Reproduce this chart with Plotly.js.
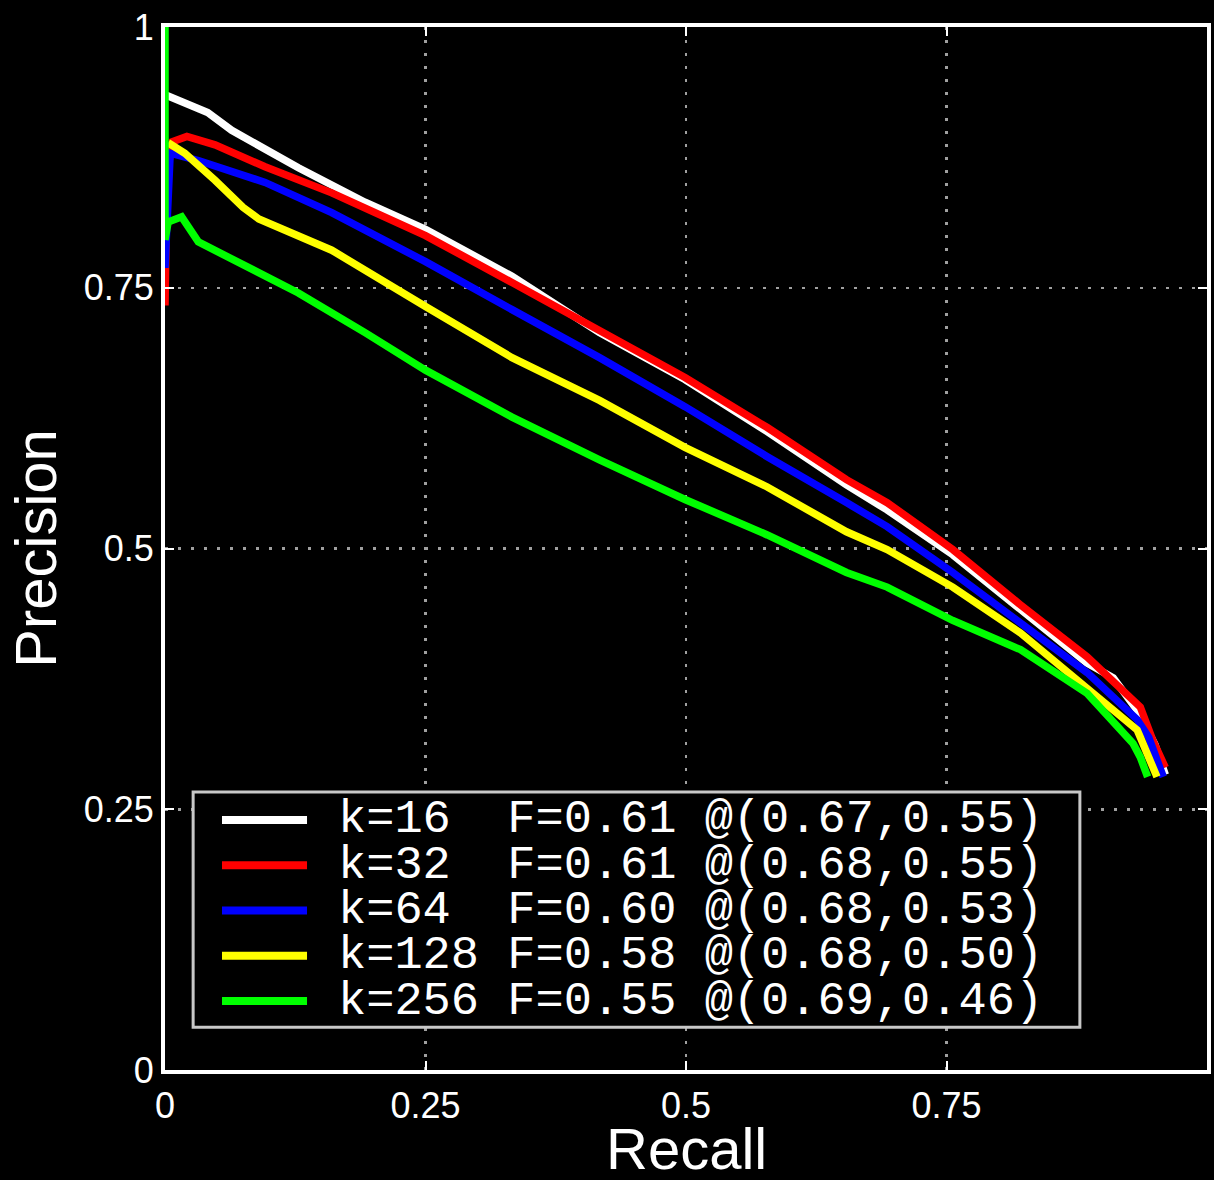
<!DOCTYPE html>
<html>
<head>
<meta charset="utf-8">
<script src="https://cdn.plot.ly/plotly-3.0.1.min.js"></script>
<style>
  html, body { margin: 0; padding: 0; background: #000; }
  #chart { width: 1214px; height: 1180px; }
</style>
</head>
<body>
<div id="chart"></div>
<script>
// ---- Data ----
const kValues = [16, 32, 64, 128, 256];
const seriesColors = ['#ffffff', '#ff0000', '#0000ff', '#ffff00', '#00ff00'];
const fScores = ['0.61', '0.61', '0.60', '0.58', '0.55'];
const bestRecall = ['0.67', '0.68', '0.68', '0.68', '0.69'];
const bestPrecision = ['0.55', '0.55', '0.53', '0.50', '0.46'];

const recallK16 = [0.000, 0.007, 0.041, 0.064, 0.128, 0.192, 0.250, 0.333, 0.417, 0.499, 0.578, 0.654, 0.693, 0.756, 0.821, 0.885, 0.910, 0.933, 0.950, 0.960];
const precK16   = [0.935, 0.932, 0.918, 0.901, 0.865, 0.832, 0.806, 0.761, 0.707, 0.662, 0.612, 0.561, 0.537, 0.494, 0.441, 0.390, 0.376, 0.345, 0.312, 0.283];

const recallK32 = [0.000, 0.002, 0.007, 0.021, 0.048, 0.096, 0.160, 0.250, 0.333, 0.417, 0.499, 0.578, 0.654, 0.693, 0.756, 0.821, 0.885, 0.936, 0.948, 0.960];
const precK32   = [0.733, 0.860, 0.890, 0.895, 0.887, 0.866, 0.841, 0.800, 0.755, 0.709, 0.664, 0.616, 0.566, 0.544, 0.499, 0.446, 0.396, 0.348, 0.316, 0.290];

const recallK64 = [0.000, 0.005, 0.032, 0.096, 0.160, 0.250, 0.333, 0.417, 0.499, 0.578, 0.654, 0.693, 0.756, 0.821, 0.885, 0.933, 0.944, 0.958];
const precK64   = [0.769, 0.879, 0.872, 0.851, 0.822, 0.775, 0.729, 0.683, 0.636, 0.588, 0.544, 0.521, 0.477, 0.429, 0.381, 0.336, 0.319, 0.281];

const recallK128 = [0.003, 0.019, 0.048, 0.075, 0.090, 0.112, 0.160, 0.250, 0.333, 0.417, 0.499, 0.578, 0.654, 0.693, 0.756, 0.821, 0.885, 0.933, 0.936, 0.952];
const precK128   = [0.889, 0.879, 0.853, 0.827, 0.816, 0.807, 0.786, 0.732, 0.683, 0.642, 0.597, 0.559, 0.516, 0.499, 0.463, 0.419, 0.367, 0.326, 0.319, 0.281];

const recallK256 = [0.000, 0.000, 0.003, 0.016, 0.032, 0.064, 0.128, 0.192, 0.250, 0.333, 0.417, 0.499, 0.578, 0.654, 0.693, 0.756, 0.821, 0.885, 0.929, 0.936, 0.943];
const precK256   = [1.000, 0.796, 0.813, 0.818, 0.794, 0.777, 0.745, 0.707, 0.671, 0.626, 0.585, 0.547, 0.513, 0.477, 0.463, 0.431, 0.403, 0.361, 0.313, 0.300, 0.281];

const tickVals = [0, 0.25, 0.5, 0.75, 1];
const tickText = ['0', '0.25', '0.5', '0.75', '1'];
const xTitle = 'Recall';
const yTitle = 'Precision';

// ---- Build ----
const recalls = [recallK16, recallK32, recallK64, recallK128, recallK256];
const precs = [precK16, precK32, precK64, precK128, precK256];

function pad(s, n) { while (s.length < n) s += ' '; return s; }
function legendLabel(i) {
  const s = pad('k=' + kValues[i], 6) + 'F=' + fScores[i] + ' @(' + bestRecall[i] + ',' + bestPrecision[i] + ')';
  return s.replace(/ /g, '\u00a0');
}

const traces = kValues.map((k, i) => ({
  type: 'scatter',
  mode: 'lines',
  x: recalls[i],
  y: precs[i],
  name: legendLabel(i),
  line: { color: seriesColors[i], width: 7.5 },
  showlegend: false,
  hoverinfo: 'x+y+name'
}));

// legend geometry (paper coordinates)
const legBox = { x0: 0.027, x1: 0.878, y0: 0.041, y1: 0.2665 };
const rowTop = 0.2397, rowStep = 0.0434;
const sampleX0 = 0.0547, sampleX1 = 0.1363, textX = 0.164;

const shapes = [{
  type: 'rect', xref: 'paper', yref: 'paper',
  x0: legBox.x0, x1: legBox.x1, y0: legBox.y0, y1: legBox.y1,
  line: { color: '#c8c8c8', width: 3 }, fillcolor: '#000000', layer: 'above'
}];
const annotations = [];
kValues.forEach((k, i) => {
  const yy = rowTop - i * rowStep;
  shapes.push({
    type: 'line', xref: 'paper', yref: 'paper',
    x0: sampleX0, x1: sampleX1, y0: yy, y1: yy,
    line: { color: seriesColors[i], width: 8 }, layer: 'above'
  });
  annotations.push({
    xref: 'paper', yref: 'paper', x: textX, y: yy,
    xanchor: 'left', yanchor: 'middle', showarrow: false,
    text: legendLabel(i),
    font: { family: 'Liberation Mono, DejaVu Sans Mono, monospace', size: 47, color: '#ffffff' }
  });
});

// x-axis title placed just under the tick labels, kept inside the bottom edge
annotations.push({
  xref: 'paper', yref: 'paper', x: 0.5, y: -0.0752,
  xanchor: 'center', yanchor: 'middle', showarrow: false,
  text: xTitle,
  font: { family: 'Liberation Sans, Arial, sans-serif', size: 58, color: '#ffffff' }
});

const axisCommon = {
  range: [0, 1],
  tickmode: 'array',
  tickvals: tickVals,
  ticktext: tickText,
  showline: true,
  linecolor: '#ffffff',
  linewidth: 4,
  mirror: 'ticks',
  ticks: 'inside',
  ticklen: 9,
  tickwidth: 2,
  tickcolor: '#ffffff',
  showgrid: true,
  gridcolor: '#a0a0a0',
  gridwidth: 2.5,
  griddash: '3px,10px',
  zeroline: false,
  fixedrange: true,
  tickfont: { family: 'Liberation Sans, Arial, sans-serif', size: 36, color: '#ffffff' }
};

const layout = {
  width: 1214,
  height: 1180,
  paper_bgcolor: '#000000',
  plot_bgcolor: '#000000',
  margin: { l: 165, r: 7, t: 27, b: 110 },
  showlegend: false,
  xaxis: Object.assign({}, axisCommon, {
    ticklabelstandoff: 1
  }),
  yaxis: Object.assign({}, axisCommon, {
    ticklabelstandoff: 0,
    title: { text: yTitle, standoff: 9,
      font: { family: 'Liberation Sans, Arial, sans-serif', size: 58, color: '#ffffff' } }
  }),
  shapes: shapes,
  annotations: annotations
};

Plotly.newPlot('chart', traces, layout, { displayModeBar: false, staticPlot: true });
</script>
</body>
</html>
